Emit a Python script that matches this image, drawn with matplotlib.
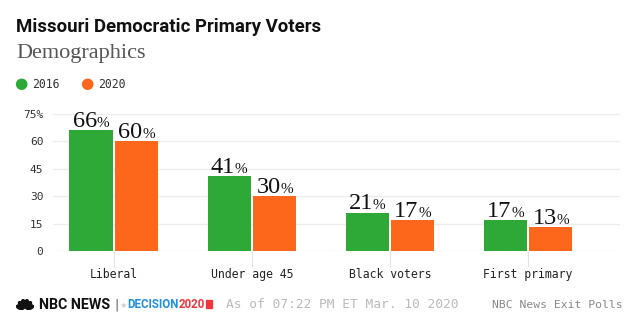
import numpy as np
import matplotlib
matplotlib.use("Agg")
import matplotlib.pyplot as plt
from matplotlib.patches import Ellipse, Rectangle

categories = ["Liberal", "Under age 45", "Black voters", "First primary"]
years = ["2016", "2020"]
v2016 = [66, 41, 21, 17]
v2020 = [60, 30, 17, 13]
yticks = [0, 15, 30, 45, 60, 75]
ytick_labels = ["0", "15", "30", "45", "60", "75%"]

green = "#2ea836"
orange = "#fd671b"

sans = "Roboto"
mono = "DejaVu Sans Mono"
serif = "Liberation Serif"

fig = plt.figure(figsize=(6.4, 3.36), dpi=100)
ax = fig.add_axes([53/640, 1-251/336, (620-53)/640, (251-114)/336])

x = np.arange(len(categories))
w = 0.312
off = 0.165
b1 = ax.bar(x - off, v2016, w, color=green, zorder=3)
b2 = ax.bar(x + off, v2020, w, color=orange, zorder=3)

ax.set_xlim(-0.44, 3.666)
ax.set_ylim(0, 75)
ax.set_yticks(yticks)
ax.set_yticklabels(ytick_labels, fontfamily=mono, fontsize=8, color="#333")
ax.set_xticks(x)
ax.set_xticklabels(categories, fontfamily=mono, fontsize=8.3, color="#222")
ax.tick_params(axis="y", length=0, pad=7)
ax.tick_params(axis="x", length=11.5, width=0.8, color="#e2e2e2", pad=1)
ax.grid(axis="y", color="#ececec", lw=1, zorder=0)
for s in ax.spines.values():
    s.set_visible(False)

# value labels: big number + small percent sign
for bars, vals in ((b1, v2016), (b2, v2020)):
    for bar, v in zip(bars, vals):
        cx = bar.get_x() + bar.get_width() / 2
        ax.annotate(str(v), (cx, v), xytext=(4.2, 2.4), textcoords="offset points",
                    ha="right", va="baseline", fontfamily=serif, fontsize=17.5,
                    color="#111", zorder=4, annotation_clip=False)
        ax.annotate("%", (cx, v), xytext=(4.2, 2.4), textcoords="offset points",
                    ha="left", va="baseline", fontfamily=serif, fontsize=11,
                    color="#111", zorder=4, annotation_clip=False)

# title block
fig.text(16/640, 1-32/336, "Missouri Democratic Primary Voters", fontfamily=sans,
         fontweight="bold", fontsize=13.4, color="#111", va="baseline")
fig.text(16/640, 1-58/336, "Demographics", fontfamily=serif, fontsize=16,
         color="#555", va="baseline")

# legend
for cxp, col, lab in ((21, green, years[0]), (87, orange, years[1])):
    fig.text(cxp/640, 1-84/336, "\u25CF", fontfamily="DejaVu Sans", fontsize=11,
             color=col, ha="center", va="center")
    fig.text((cxp+11)/640, 1-84/336, lab, fontfamily=mono, fontsize=8.3,
             color="#333", va="center")

# footer logo (rough peacock)
lax = fig.add_axes([16/640, 1-310/336, 18/640, 11/336])
lax.set_xlim(-1, 1)
lax.set_ylim(0, 1.1)
lax.axis("off")
for ang in (-75, -45, -15, 15, 45, 75):
    t = np.deg2rad(ang)
    lax.add_patch(Ellipse((0.55*np.sin(t), 0.15+0.5*np.cos(t)), 0.42, 0.85,
                          angle=-ang, color="#111"))
fy = 1-305/336
fig.text(39/640, fy, "NBC NEWS", fontfamily=sans, fontweight="bold", fontsize=10.3,
         color="#111", va="center")
fig.text(114/640, fy, "|", fontfamily="DejaVu Sans", fontsize=9, color="#555", va="center")
fig.text(119/640, fy, "\u2605", fontfamily="DejaVu Sans", fontsize=6, color="#ccc", va="center")
dec = fig.text(127/640, fy, "DECISION", fontfamily=sans, fontweight="bold", fontsize=8.3,
               color="#1e8fe1", va="center")
fig.add_artist(plt.Annotation("2020", xy=(1, 0.5), xycoords=dec, xytext=(0, 0),
                              textcoords="offset points", ha="left", va="center",
                              fontfamily=sans, fontweight="bold", fontsize=8.3,
                              color="#f0353d"))
for k in range(4):
    fig.patches.append(Rectangle((206/640, 1-(300+2.4*k+1.2)/336), 6/640, 1.2/336,
                                 transform=fig.transFigure, color="#f0353d"))

fig.text(226/640, fy, "As of 07:22 PM ET Mar. 10 2020", fontfamily=mono, fontsize=9.3,
         color="#bbbbbb", va="center")
fig.text(623/640, fy, "NBC News Exit Polls", fontfamily=mono, fontsize=8.2,
         color="#888888", va="center", ha="right")

fig.savefig("out.png", dpi=100)
